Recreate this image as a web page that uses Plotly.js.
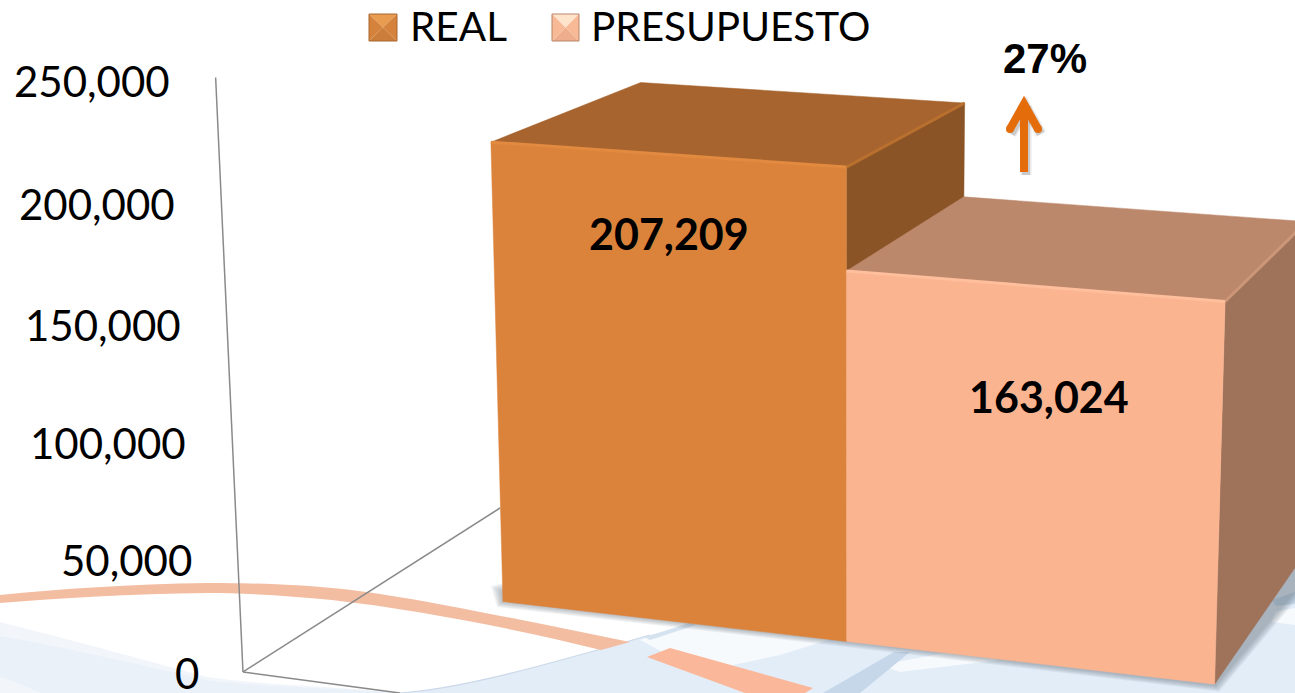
<!DOCTYPE html><html><head><meta charset="utf-8"><script src="https://cdn.plot.ly/plotly-3.0.1.min.js"></script>
<style>html,body{margin:0;background:#fff;overflow:hidden}#c{width:1295px;height:693px}</style></head><body><div id="c"></div>
<script>
const categories=['REAL','PRESUPUESTO'];
const values=[207209,163024];
const tickValues=[0,50000,100000,150000,200000,250000];
const changeLabel='27%';
const ZM=250000;
const zr=values[0]/ZM,zb=values[1]/ZM;
const M=[[305.32473,205.86831,-33.1952,181.459],[17.97513,-47.34576,-541.98467,564.2308],[-0.03216,0.10265,-0.03896,1]];
function P(x,y,z){const w=M[2][0]*x+M[2][1]*y+M[2][2]*z+1;return[(M[0][0]*x+M[0][1]*y+M[0][2]*z+M[0][3])/w,(M[1][0]*x+M[1][1]*y+M[1][2]*z+M[1][3])/w];}
const ox=0.6115,oy=-0.7183,dx=0.617,dy=0.778,ex=1.063,ey=-0.726;
function face(pts,col){const q=pts.map(p=>P(...p));q.push(q[0]);return{type:'scatter',mode:'lines',x:q.map(a=>a[0]),y:q.map(a=>a[1]),fill:'toself',fillcolor:col,line:{color:col,width:0.5},hoverinfo:'skip',showlegend:false};}
function edge(a,b,col,w){const q=[P(...a),P(...b)];return{type:'scatter',mode:'lines',x:q.map(c=>c[0]),y:q.map(c=>c[1]),line:{color:col,width:w},hoverinfo:'skip',showlegend:false};}
function bar(x0,x1,z,f,t,s,e1,e2){return[face([[x0,1,z],[x1,1,z],[x1,0,z],[x0,0,z]],t),face([[x1,0,0],[x1,1,0],[x1,1,z],[x1,0,z]],s),face([[x0,0,0],[x1,0,0],[x1,0,z],[x0,0,z]],f),edge([x1,0,z],[x1,1,z],e2,3),edge([x0,0,z],[x1,0,z],e1,3)];}
const traces=[edge([ox,oy,0],[ox,oy,1],'#8a8a8a',1.5),edge([ox,oy,0],[ex,ey,0],'#8a8a8a',1.5),edge([ox,oy,0],[dx,dy,0],'#8a8a8a',1.5),
...bar(1,2,zr,'#DC833B','#A7642E','#8B5427','#E28A40','#B9702F'),...bar(2,3,zb,'#FBB490','#BC886C','#9F725A','#FFBE9C','#CC9678')];
function S(path,fill,op,line){return{type:'path',xref:'x',yref:'y',path,fillcolor:fill||'rgba(0,0,0,0)',opacity:op==null?1:op,line:line||{width:0},layer:'below'};}
const shapes=[
 S('M 0 622 C 60 637 145 660 207 677 C 270 686 340 686 398 693 L 0 693 Z','#F2F6FB'),
 S('M 0 636 C 60 646 145 666 207 680 C 270 688 340 688 398 693 L 41 693 C 25 686 12 681 0 677 Z','#EAF1F9'),
 S('M 398 693 C 456 690 539 667 650 635 L 740 620 L 1295 520 L 1295 693 Z','#E2EDF8'),
 S('M 398 693 C 456 690 539 667 650 635','',1,{color:'#CBD8E8',width:1.2}),
 S('M 640 640 L 700 618 L 860 630 L 780 655 L 700 672 Z','#F7FAFD'),
 S('M 880 665 L 960 650 L 1000 660 L 900 672 Z','#F7FAFD'),
 S('M 894 652 L 910 652 L 860 693 L 823 693 Z','#C5D7E9'),
 S('M 645 637 L 690 623 L 696 625 L 650 640 Z','#D5E2EF'),
 S('M 1272 600 L 1295 592 L 1295 604 L 1276 606 Z','#C5D7E9'),
 S('M 1275 612 L 1295 608 L 1295 625 L 1272 622 Z','#F7FAFD'),
 S('M 0 595 C 60 589 130 584 207 583 C 260 583 300 585 332 588 C 400 594 520 620 630 642 L 601 650 C 520 630 420 610 332 600 C 290 596 250 593 207 593 C 130 594 60 598 0 603 Z','#F3BDA2'),
 S('M 647 657 L 670 648 L 813 688 L 805 693 L 745 693 Z','#FBB79A'),
];
for(let k=1;k<=6;k++)shapes.push(S(`M ${503-2*k} ${592-k} L ${503-k} ${601+k} L 846 ${641+k} L ${1215+.7*k} ${685+1.1*k} L ${1295+k} ${590+.7*k} L 1295 560 L 600 560 Z`,'#5A6470',.085));
shapes.push(
 S('M 1026 175 L 1026 106','',.12,{color:'#555',width:11}),S('M 1011 134 L 1026 107 L 1041 134','',.12,{color:'#555',width:11}),
 S('M 1026 175 L 1026 106','',.2,{color:'#555',width:8}),S('M 1011 134 L 1026 107 L 1041 134','',.2,{color:'#555',width:8}),
 S('M 1024 172 L 1024 104','',1,{color:'#E46C0A',width:8}),S('M 1010 129 L 1024 104 L 1038 129','',1,{color:'#E46C0A',width:8}));
for(const cx of [1010,1038])shapes.push({type:'circle',xref:'x',yref:'y',x0:cx-4,x1:cx+4,y0:125,y1:133,fillcolor:'#E46C0A',line:{width:0},layer:'below'});
function sw(x0,x1,y0,y1,t,l,b,r,bd){const cx=(x0+x1)/2,cy=(y0+y1)/2;const o=[];const tri=(a,c,col)=>o.push(S(`M ${a} L ${c} L ${cx} ${cy} Z`,col));
 tri(`${x0} ${y0}`,`${x1} ${y0}`,t);tri(`${x1} ${y0}`,`${x1} ${y1}`,r);tri(`${x1} ${y1}`,`${x0} ${y1}`,b);tri(`${x0} ${y1}`,`${x0} ${y0}`,l);
 o.push(S(`M ${x0} ${y0} L ${x1} ${y0} L ${x1} ${y1} L ${x0} ${y1} Z`,'',1,{color:bd,width:1}));return o;}
shapes.push(...sw(369,397,14,41,'#E89C50','#D5823C','#CB7E3A','#D5823C','#A9672F'),...sw(552,579,14,41,'#FFE4CC','#F7B996','#EEAD8C','#F7B996','#B98568'));
const ann=[];const fmt=v=>v.toLocaleString('en-US');
for(const t of tickValues){const q=P(ox,oy,t/ZM);ann.push({x:q[0],y:q[1],xref:'x',yref:'y',text:fmt(t),showarrow:false,xanchor:'right',yanchor:'middle',xshift:t==0?-42:-44,yshift:t==0?-1:-3,font:{family:'Lato',size:42,color:'#000'}});}
const lab=(x,y,text,fs,fam)=>({x,y,xref:'x',yref:'y',text,showarrow:false,font:{family:fam,size:fs,color:'#000'}});
const q1=P(1.5,0,zr),q2=P(2.5,0,zb);
ann.push({...lab(q1[0],q1[1],'<b>'+fmt(values[0])+'</b>',43,'Lato'),xshift:3,yshift:-79});
ann.push({...lab(q2[0],q2[1],'<b>'+fmt(values[1])+'</b>',43,'Lato'),xshift:17,yshift:-110});
ann.push(lab(1045,58,'<b>'+changeLabel+'</b>',42,'Liberation Sans'));
ann.push({...lab(408,25,categories[0],40.5,'Lato'),xanchor:'left'});ann.push({...lab(589,25,categories[1],40.5,'Lato'),xanchor:'left'});
const hid=r=>({range:r,visible:false,fixedrange:true});
Plotly.newPlot('c',traces,{width:1295,height:693,margin:{l:0,r:0,t:0,b:0},showlegend:false,paper_bgcolor:'#fff',plot_bgcolor:'rgba(0,0,0,0)',xaxis:hid([0,1295]),yaxis:hid([693,0]),shapes,annotations:ann},{displayModeBar:false,staticPlot:true});
</script></body></html>
